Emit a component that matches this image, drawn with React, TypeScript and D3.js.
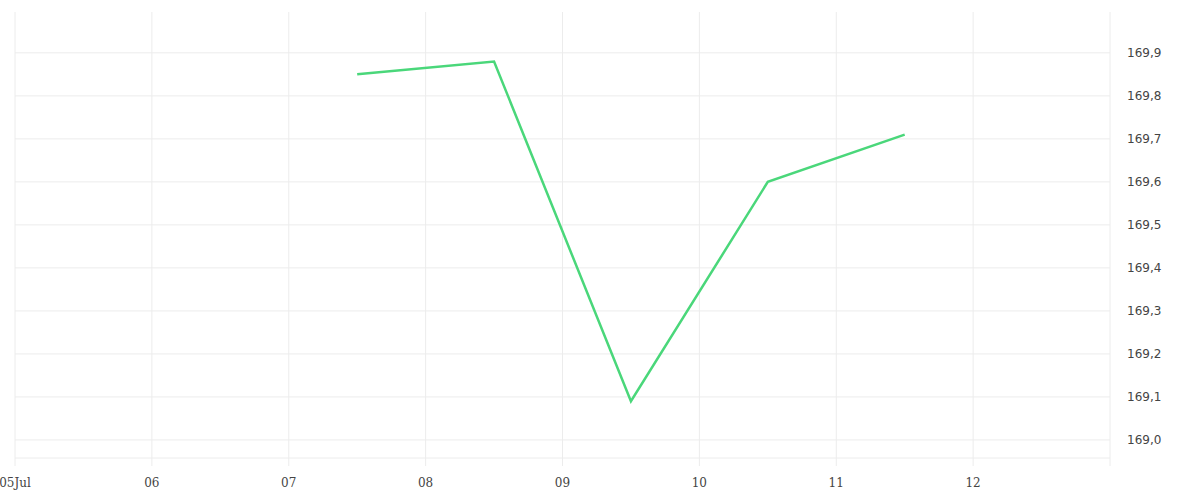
import React from 'react';
import * as d3 from 'd3';

// Daily closing values (plotted at midday)
const dates = ['2024-07-07T12:00', '2024-07-08T12:00', '2024-07-09T12:00', '2024-07-10T12:00', '2024-07-11T12:00'];
const values = [169.85, 169.88, 169.09, 169.6, 169.71];
const yTicks = [169.0, 169.1, 169.2, 169.3, 169.4, 169.5, 169.6, 169.7, 169.8, 169.9];
const xDomain = ['2024-07-05T00:00', '2024-07-13T00:00'];
const yDomain = [168.958, 169.995];

const width = 1200;
const height = 500;
const left = 15;
const right = 1110;
const top = 12;
const bottom = 458;

export default function App() {
  const parse = (s: string) => new Date(s);
  const x = d3.scaleTime().domain(xDomain.map(parse)).range([left, right]);
  const y = d3.scaleLinear().domain(yDomain).range([bottom, top]);

  const days = d3.timeDay.range(parse(xDomain[0]), d3.timeDay.offset(parse(xDomain[1]), 1));
  const points = dates.map((d, i) => [parse(d), values[i]] as [Date, number]);
  const line = d3.line<[Date, number]>().x(d => x(d[0])).y(d => y(d[1]));
  const fmtY = (v: number) => v.toFixed(1).replace('.', ',');
  const fmtX = (d: Date, i: number) => (i === 0 ? d3.timeFormat('%dJul')(d) : d3.timeFormat('%d')(d));

  return (
    <svg width={width} height={height} style={{ position: 'absolute', left: 0, top: 0, background: '#fff' }}>
      {/* vertical grid */}
      {days.map((d, i) => (
        <line key={'v' + i} x1={x(d)} x2={x(d)} y1={top} y2={bottom + 8} stroke="#ececec" strokeWidth={1} />
      ))}
      {/* horizontal grid */}
      {yTicks.map(t => (
        <line key={'h' + t} x1={left} x2={right} y1={y(t)} y2={y(t)} stroke="#ececec" strokeWidth={1} />
      ))}
      <line x1={left} x2={right} y1={bottom} y2={bottom} stroke="#ececec" strokeWidth={1} />

      {/* y labels */}
      {yTicks.map(t => (
        <text key={'yl' + t} x={1127} y={y(t)} dy="0.35em" fontSize={12} fontFamily="DejaVu Sans" fill="#444">
          {fmtY(t)}
        </text>
      ))}

      {/* x labels */}
      {days.slice(0, 8).map((d, i) => (
        <text key={'xl' + i} x={x(d)} y={487} textAnchor="middle" fontSize={12} fontFamily="DejaVu Serif" fill="#444">
          {fmtX(d, i)}
        </text>
      ))}

      <path d={line(points) || ''} fill="none" stroke="#4ad77a" strokeWidth={2.5} strokeLinejoin="miter" />
    </svg>
  );
}
